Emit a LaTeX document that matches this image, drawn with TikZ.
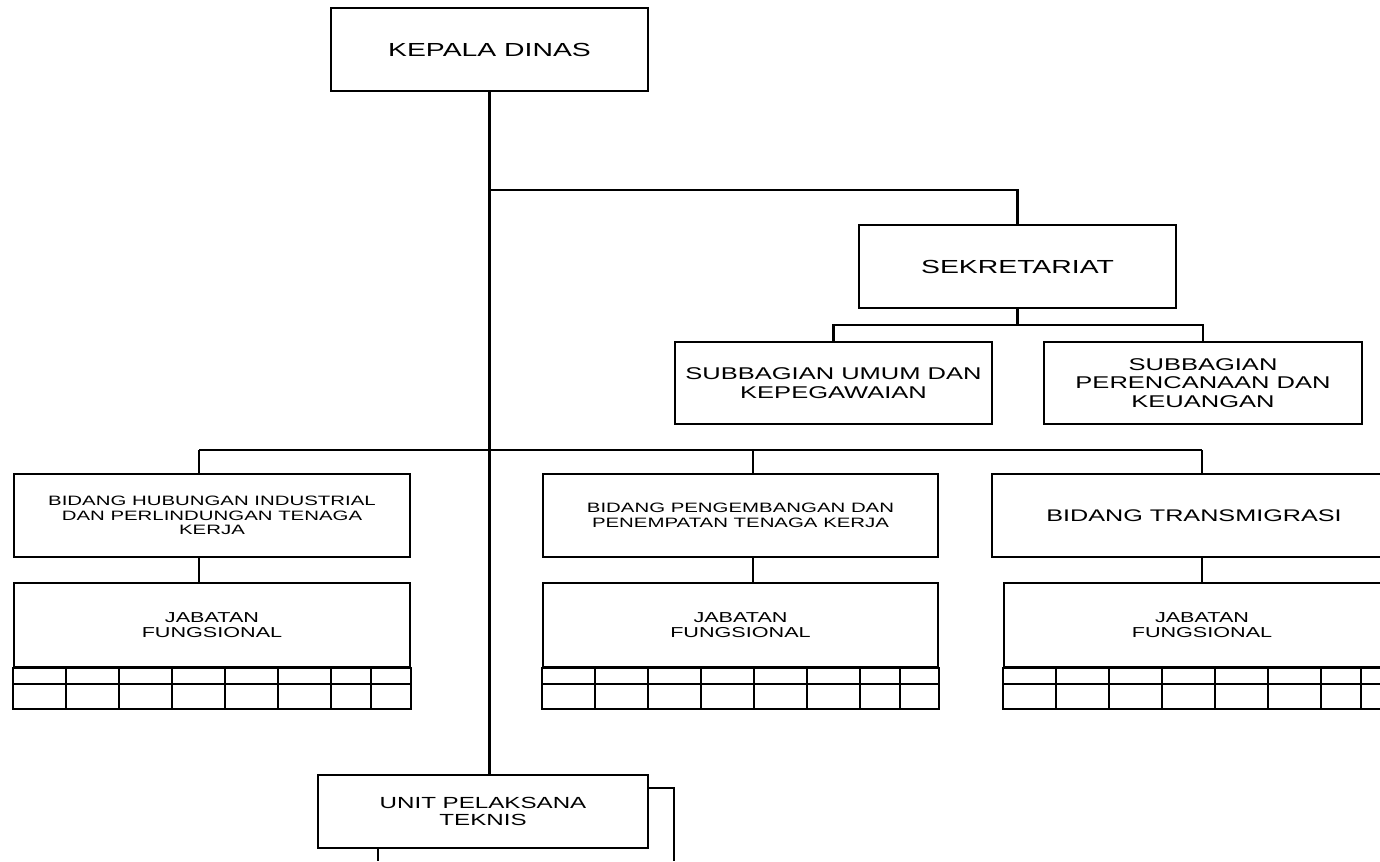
\documentclass[tikz,border=0pt]{standalone}
\usepackage{fontspec}
\setmainfont{Liberation Sans}[FakeStretch=1.5]
\begin{document}
\begin{tikzpicture}[x=1bp,y=-1bp,
  box/.style={draw, line width=2bp, rectangle, inner sep=0pt, align=center, fill=white},
  conn/.style={line width=2.2bp},
  gridline/.style={line width=1.8bp}]
\useasboundingbox (0,0) rectangle (1380,861);
\clip (0,0) rectangle (1380,861);
\fill[white] (0,0) rectangle (1380,861);

\coordinate (t1) at (199,450);
\coordinate (t2) at (753,450);
\coordinate (t3) at (1202,450);
\coordinate (j1) at (490,190);
\coordinate (s1) at (1017.5,325);

% nodes
\node[box, minimum width=317bp, minimum height=83bp, font={\fontsize{18.9bp}{20.5bp}\selectfont}] (kd) at (489.5,49.5) {KEPALA DINAS};
\node[box, minimum width=317bp, minimum height=83bp, font={\fontsize{18.9bp}{20.5bp}\selectfont}] (sek) at (1017.5,266.5) {SEKRETARIAT};
\node[box, minimum width=317bp, minimum height=82bp, font={\fontsize{17bp}{18.4bp}\selectfont}] (sub1) at (833.5,383) {SUBBAGIAN UMUM DAN\\KEPEGAWAIAN};
\node[box, minimum width=318bp, minimum height=82bp, font={\fontsize{17bp}{18.4bp}\selectfont}] (sub2) at (1203,383) {SUBBAGIAN\\PERENCANAAN DAN\\KEUANGAN};
\node[box, minimum width=396bp, minimum height=83bp, font={\fontsize{13.6bp}{14.7bp}\selectfont}] (bid1) at (212,515.5) {BIDANG HUBUNGAN INDUSTRIAL\\DAN PERLINDUNGAN TENAGA\\KERJA};
\node[box, minimum width=395bp, minimum height=83bp, font={\fontsize{13.6bp}{14.7bp}\selectfont}] (bid2) at (740.5,515.5) {BIDANG PENGEMBANGAN DAN\\PENEMPATAN TENAGA KERJA};
\node[box, minimum width=404bp, minimum height=83bp, font={\fontsize{16.8bp}{18bp}\selectfont}] (bid3) at (1194,515.5) {BIDANG TRANSMIGRASI};
\node[box, minimum width=396bp, minimum height=84bp, font={\fontsize{14.4bp}{15.5bp}\selectfont}] (jab1) at (212,625) {JABATAN\\FUNGSIONAL};
\node[box, minimum width=395bp, minimum height=84bp, font={\fontsize{14.4bp}{15.5bp}\selectfont}] (jab2) at (740.5,625) {JABATAN\\FUNGSIONAL};
\node[box, minimum width=396bp, minimum height=84bp, font={\fontsize{14.4bp}{15.5bp}\selectfont}] (jab3) at (1202,625) {JABATAN\\FUNGSIONAL};
\node[box, minimum width=330bp, minimum height=73bp, font={\fontsize{16.1bp}{17.4bp}\selectfont}] (upt) at (483,811.5) {UNIT PELAKSANA\\TEKNIS};

% connectors
\draw[conn] (kd.south) -- (kd.south |- upt.north);
\draw[conn] (kd.south |- j1) -| (sek.north);
\draw[conn] (sek.south) -- (s1);
\draw[conn] (sub1.north) |- (s1) -| (sub2.north);
\draw[conn] (t1) -- (t3);
\draw[conn] (t1) -- (t1 |- bid1.north);
\draw[conn] (t2) -- (t2 |- bid2.north);
\draw[conn] (t3) -- (t3 |- bid3.north);
\draw[conn] (t1 |- bid1.south) -- (t1 |- jab1.north);
\draw[conn] (t2 |- bid2.south) -- (t2 |- jab2.north);
\draw[conn] (t3 |- bid3.south) -- (t3 |- jab3.north);

% grids below jabatan headers
\foreach \n in {jab1,jab2,jab3}{
  \draw[gridline] (\n.south west) rectangle ([yshift=-41bp]\n.south east);
  \draw[gridline] ([yshift=-16bp]\n.south west) -- ([yshift=-16bp]\n.south east);
  \foreach \c in {53,106,159,212,265,318,358}{
    \draw[gridline] ([xshift=\c bp]\n.south west) -- ([xshift=\c bp,yshift=-41bp]\n.south west);
  }
}

% UPT side lines
\coordinate (u1) at (674,788);
\coordinate (u2) at (674,861);
\coordinate (u3) at (378,861);
\draw[conn] (upt.east |- u1) -- (u1) -- (u2);
\draw[conn] (u3 |- upt.south) -- (u3);
\end{tikzpicture}
\end{document}
